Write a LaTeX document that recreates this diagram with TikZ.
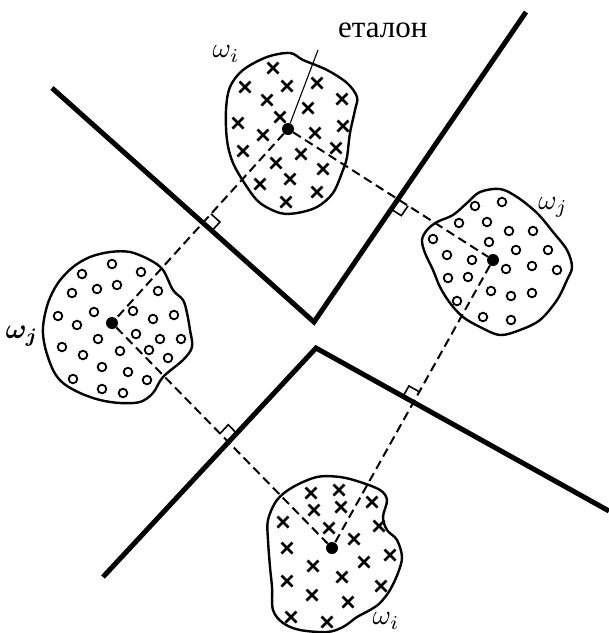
\documentclass[tikz,border=0pt]{standalone}
\usepackage{fontspec}
\usepackage{amsmath}
\newfontfamily\tnr{Liberation Serif}
\usetikzlibrary{calc}
\tikzset{
 bound/.style={line width=5pt},
 conn/.style={line width=2pt, dash pattern=on 9pt off 5pt},
 blob/.style={line width=2.4pt, smooth cycle, tension=0.55},
 dot/.style={circle, fill=black, inner sep=0pt, minimum size=12pt},
 xm/.style={line width=2.7pt},
 om/.style={line width=1.8pt},
 rmark/.style={line width=1.6pt},
 lab/.style={inner sep=0pt, scale=2.8},
 pointer/.style={line width=1.1pt}
}
\newcommand\rangleMark[3]{%
 \coordinate (m1) at ($(#1)!12pt!(#2)$);
 \coordinate (m3) at ($(#1)!12pt!(#3)$);
 \draw[rmark] (m1) -- ($(m1)+(m3)-(#1)$) -- (m3);}
\begin{document}
\begin{tikzpicture}[x=1pt,y=-1pt]
\useasboundingbox (0,0) rectangle (609,633);
% etalon centres
\coordinate (Ti) at (288,129);
\coordinate (Rj) at (493,260);
\coordinate (Lj) at (112,323);
\coordinate (Bi) at (332,548);
% boundaries
\coordinate (B1) at (52,88);
\coordinate (V1) at (314,322);
\coordinate (B2) at (526,12);
\coordinate (B3) at (103,577);
\coordinate (V2) at (316,348);
\coordinate (B4) at (609,511);
\draw[bound] (B1) -- (V1) -- (B2);
\draw[bound] (B3) -- (V2) -- (B4);
% blobs
\draw[blob] plot coordinates {(290,53) (303,60) (327,70) (347,83) (357,97) (355,110) (350,133) (347,157) (343,170) (333,193) (317,207) (297,213) (280,213) (260,203) (247,187) (233,163) (227,140) (226,110) (230,87) (243,70) (267,57)};
\draw[blob] plot coordinates {(422,240) (427,230) (437,222) (453,215) (467,203) (480,192) (500,189) (517,197) (537,213) (553,232) (567,250) (572,267) (567,280) (557,300) (540,320) (520,330) (500,335) (480,327) (463,317) (450,303) (440,287) (433,270) (425,253)};
\draw[blob] plot coordinates {(90,257) (110,252) (130,252) (150,260) (163,270) (173,290) (183,300) (187,313) (190,330) (192,347) (183,360) (163,377) (153,393) (140,402) (120,403) (100,400) (80,393) (63,383) (53,370) (45,347) (43,327) (48,303) (58,283) (73,267)};
\draw[blob] plot coordinates {(277,500) (293,487) (317,477) (340,477) (360,482) (380,490) (387,500) (383,517) (387,530) (397,540) (402,557) (398,573) (390,590) (380,603) (370,610) (357,617) (343,627) (327,632) (300,630) (283,623) (273,610) (272,587) (270,567) (268,540) (268,520)};
% crosses
\foreach \p in {(273,68),(245,87),(287,86),(317,83),(342,99),(267,100),(308,108),(280,117),(238,123),(343,126),(315,133),(263,135),(243,151),(336,148),(301,154),(276,163),(323,169),(290,179),(260,184),(317,192),(286,202),
(311,493),(339,490),(314,510),(341,507),(372,502),(283,522),(379,526),(329,528),(354,539),(287,548),(390,555),(364,562),(313,566),(342,577),(287,581),(381,586),(312,595),(348,602),(291,617),(327,622)}
 \draw[xm] \p ++(-5.5,-5.5) -- ++(11,11) \p ++(-5.5,5.5) -- ++(11,-11);
% circles
\foreach \p in {(475,206),(502,202),(459,223),(487,222),(509,231),(533,231),(433,239),(489,242),(516,250),(548,250),(447,255),(472,260),(506,269),(532,266),(557,270),(448,278),(468,277),(491,291),(511,296),(532,293),(457,301),(483,317),(511,320),
(112,264),(82,274),(141,272),(117,285),(97,289),(72,293),(158,291),(94,312),(133,311),(58,316),(174,315),(153,319),(77,325),(136,334),(98,339),(160,339),(181,339),(62,347),(120,351),(149,350),(83,355),(168,358),(102,367),(128,372),(73,379),(147,380),(102,389),(123,393)}
 \draw[om] \p circle[radius=4.3pt];
% centre dots
\node[dot] (ti) at (Ti) {};
\node[dot] (rj) at (Rj) {};
\node[dot] (lj) at (Lj) {};
\node[dot] (bi) at (Bi) {};
% dashed connectors
\draw[conn] (ti) -- (lj);
\draw[conn] (ti) -- (rj);
\draw[conn] (lj) -- (bi);
\draw[conn] (rj) -- (bi);
% right-angle marks
\coordinate (P1) at (intersection of Ti--Lj and B1--V1);
\coordinate (P2) at (intersection of Ti--Rj and V1--B2);
\coordinate (P3) at (intersection of Lj--Bi and B3--V2);
\coordinate (P4) at (intersection of Rj--Bi and V2--B4);
\rangleMark{P1}{Ti}{V1}
\rangleMark{P2}{Rj}{V1}
\rangleMark{P3}{Lj}{V2}
\rangleMark{P4}{Rj}{V2}
% labels
\node[anchor=base west, inner sep=0pt, font=\tnr\fontsize{31}{31}\selectfont] (et) at (338,37) {еталон};
\coordinate (pt) at (318,50);
\draw[pointer] (pt) -- (ti);
\node[lab] (l1) at (226,54) {$\omega_i$};
\node[lab] (l2) at (553,207) {$\omega_j$};
\node[lab] (l3) at (22,336) {$\boldsymbol{\omega_j}$};
\node[lab] (l4) at (386,621) {$\omega_i$};
\end{tikzpicture}
\end{document}
